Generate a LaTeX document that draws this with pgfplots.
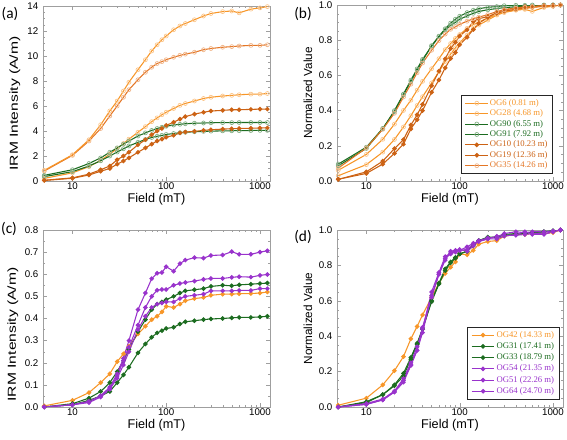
\documentclass[border=0pt]{standalone}
\usepackage{fontspec}
\setmainfont{Liberation Sans}
\newfontfamily\lserif{Liberation Serif}
\newfontfamily\carlito{Carlito}
\usepackage{pgfplots}
\usepackage{pgfplotstable}
\pgfplotsset{compat=1.18}
\pgfkeys{/pgf/number format/assume math mode=true}
\definecolor{lor}{RGB}{247,150,40}
\definecolor{mor}{RGB}{228,118,38}
\definecolor{dor}{RGB}{204,98,20}
\definecolor{dgr}{RGB}{28,108,32}
\definecolor{pur}{RGB}{153,51,204}

\pgfplotstableread{
f OG6 OG28 OG90 OG91 OG10 OG19 OG35
5 0.85 0.21 0.45 0.35 0.06 0.04 0.8
10 2.1 0.65 0.9 0.75 0.25 0.22 2.05
15 3.3 1.15 1.4 1.2 0.55 0.48 3.2
20 4.5 1.65 1.85 1.62 0.9 0.78 4.2
25 5.6 2.15 2.3 2.0 1.2 1.0 5.2
30 6.4 2.6 2.65 2.32 1.7 1.35 6.0
35 7.2 3.0 2.95 2.58 2.0 1.6 6.7
40 7.9 3.35 3.2 2.8 2.3 1.85 7.3
50 8.9 3.9 3.6 3.1 2.9 2.3 8.1
60 9.7 4.35 3.85 3.32 3.3 2.65 8.7
70 10.4 4.75 4.05 3.48 3.7 2.95 9.1
80 10.9 5.05 4.2 3.58 4.0 3.2 9.4
90 11.3 5.3 4.3 3.65 4.2 3.35 9.55
100 11.6 5.5 4.38 3.72 4.45 3.5 9.7
120 12.1 5.8 4.48 3.8 4.7 3.65 9.9
140 12.4 6.05 4.54 3.86 4.95 3.85 10.05
160 12.6 6.2 4.58 3.9 5.15 3.92 10.15
200 12.9 6.4 4.62 3.94 5.35 3.97 10.3
250 13.2 6.6 4.64 3.97 5.5 4.05 10.5
300 13.4 6.7 4.66 3.99 5.6 4.1 10.6
400 13.55 6.8 4.67 4.01 5.65 4.15 10.7
500 13.6 6.85 4.67 4.02 5.7 4.18 10.75
600 13.45 6.9 4.68 4.03 5.7 4.2 10.8
800 13.75 6.95 4.68 4.04 5.73 4.22 10.85
1000 13.85 6.95 4.68 4.05 5.75 4.24 10.85
1200 13.95 7.0 4.68 4.05 5.75 4.25 10.9
}\tabA

\pgfplotstableread{
f OG6 OG28 OG90 OG91 OG10 OG19 OG35
5 0.061 0.030 0.096 0.086 0.010 0.009 0.073
10 0.151 0.093 0.192 0.185 0.043 0.052 0.188
15 0.237 0.164 0.299 0.296 0.096 0.113 0.294
20 0.323 0.236 0.395 0.400 0.157 0.184 0.385
25 0.401 0.307 0.491 0.494 0.209 0.235 0.477
30 0.459 0.371 0.566 0.573 0.296 0.318 0.550
35 0.516 0.429 0.630 0.637 0.348 0.376 0.615
40 0.566 0.479 0.684 0.691 0.400 0.435 0.670
50 0.638 0.557 0.769 0.765 0.504 0.541 0.743
60 0.695 0.621 0.823 0.820 0.574 0.624 0.798
70 0.746 0.679 0.865 0.859 0.643 0.694 0.835
80 0.781 0.721 0.897 0.884 0.696 0.753 0.862
90 0.810 0.757 0.919 0.901 0.730 0.788 0.876
100 0.832 0.786 0.936 0.919 0.774 0.824 0.890
120 0.867 0.829 0.957 0.938 0.817 0.859 0.908
140 0.889 0.864 0.970 0.953 0.861 0.906 0.922
160 0.903 0.886 0.979 0.963 0.896 0.922 0.931
200 0.925 0.914 0.987 0.973 0.930 0.934 0.945
250 0.946 0.943 0.991 0.980 0.957 0.953 0.963
300 0.961 0.957 0.996 0.985 0.974 0.965 0.972
400 0.971 0.971 0.998 0.990 0.983 0.976 0.982
500 0.975 0.979 0.998 0.993 0.991 0.984 0.986
600 0.964 0.986 1.0 0.995 0.991 0.988 0.991
800 0.986 0.993 1.0 0.998 0.997 0.993 0.995
1000 0.993 0.993 1.0 1.0 1.0 0.998 0.995
1200 1.0 1.0 1.0 1.0 1.0 1.0 1.0
}\tabB

\pgfplotstableread{
f OG42 OG31 OG33 OG54 OG51 OG64
5 0.005 0 0 0 0 0
10 0.03 0.015 0.01 0.01 0.01 0.01
15 0.065 0.04 0.03 0.025 0.025 0.02
20 0.11 0.07 0.05 0.05 0.05 0.045
25 0.15 0.11 0.07 0.09 0.085 0.08
30 0.205 0.16 0.11 0.15 0.14 0.13
35 0.24 0.21 0.145 0.22 0.21 0.19
40 0.275 0.26 0.18 0.30 0.27 0.25
50 0.33 0.34 0.245 0.44 0.37 0.35
60 0.365 0.395 0.285 0.515 0.45 0.41
70 0.395 0.44 0.315 0.58 0.50 0.45
80 0.41 0.465 0.335 0.605 0.528 0.465
90 0.43 0.475 0.345 0.608 0.531 0.47
100 0.455 0.485 0.355 0.634 0.531 0.475
120 0.45 0.50 0.36 0.614 0.55 0.475
140 0.465 0.515 0.375 0.648 0.558 0.49
160 0.48 0.525 0.385 0.664 0.563 0.50
200 0.49 0.53 0.39 0.675 0.569 0.505
250 0.495 0.535 0.395 0.673 0.577 0.51
300 0.505 0.545 0.398 0.685 0.581 0.525
400 0.51 0.55 0.40 0.687 0.581 0.525
500 0.51 0.548 0.403 0.702 0.586 0.525
600 0.512 0.552 0.405 0.69 0.589 0.527
800 0.513 0.555 0.405 0.69 0.587 0.527
1000 0.515 0.558 0.407 0.70 0.595 0.535
1200 0.52 0.56 0.41 0.706 0.599 0.535
}\tabC

\pgfplotstableread{
f OG42 OG31 OG33 OG54 OG51 OG64
5 0.01 0.0 0.0 0.0 0.0 0.0
10 0.05 0.03 0.025 0.015 0.015 0.02
15 0.125 0.07 0.07 0.04 0.04 0.045
20 0.205 0.125 0.12 0.085 0.085 0.09
25 0.285 0.19 0.175 0.15 0.14 0.16
30 0.385 0.28 0.27 0.24 0.235 0.25
35 0.455 0.36 0.355 0.32 0.32 0.34
40 0.52 0.44 0.44 0.42 0.45 0.44
50 0.62 0.60 0.595 0.63 0.62 0.65
60 0.70 0.70 0.695 0.75 0.75 0.76
70 0.755 0.78 0.77 0.84 0.83 0.85
80 0.79 0.82 0.815 0.865 0.88 0.87
90 0.82 0.845 0.84 0.875 0.885 0.88
100 0.865 0.865 0.865 0.89 0.885 0.885
120 0.86 0.88 0.88 0.88 0.905 0.89
140 0.885 0.92 0.91 0.91 0.925 0.92
160 0.92 0.94 0.94 0.935 0.935 0.94
200 0.935 0.96 0.955 0.95 0.95 0.955
250 0.94 0.96 0.96 0.95 0.965 0.96
300 0.965 0.975 0.97 0.965 0.97 0.98
400 0.975 0.98 0.975 0.975 0.97 0.99
500 0.975 0.98 0.98 0.99 0.975 0.985
600 0.98 0.985 0.985 0.975 0.98 0.99
800 0.98 0.99 0.99 0.975 0.98 0.99
1000 0.985 0.995 0.995 0.99 0.99 0.995
1200 1.0 1.0 1.0 1.0 1.0 1.0
}\tabD

\pgfplotsset{
  sOpen/.style={color=#1, line width=0.8pt, mark=o, mark size=1.5pt, mark options={fill=white, draw=#1!55!white, line width=0.5pt, solid}},
  sFill/.style={color=#1, line width=0.8pt, mark=*, mark size=1.3pt, mark options={solid}},
}
\def\legfont{\lserif\fontsize{6.5}{7}\selectfont}
\def\tickfont{\fontsize{7.3}{8}\selectfont}
\def\xlabfont{\fontsize{9.5}{11}\selectfont}

\begin{document}
\begin{tikzpicture}
\useasboundingbox (0,0) rectangle (425.25pt,-329.25pt);

% (a)
\begin{axis}[at={(32.25pt,-4.5pt)}, anchor=north west,
  scale only axis, width=170.25pt, height=131.25pt,
  xmode=log, xmin=4.85, xmax=1280,
  xtick={10,100,1000}, xticklabels={10,100,1000},
  tick label style={font=\tickfont}, xticklabel style={inner sep=1pt},
  axis line style={gray!75}, tick style={gray!75},
  major tick length=3pt, minor tick length=1.8pt,
  xlabel={Field (mT)},
  xlabel style={font=\xlabfont, at={(axis description cs:0.5,0)}, anchor=center, yshift=-14pt},
  ymin=0, ymax=14, ytick={0,2,...,14}, minor y tick num=3,
  ylabel={\scalebox{1.35}[1]{IRM Intensity (A/m)}},
  ylabel style={font=\fontsize{8.7}{10}\selectfont, at={(axis description cs:0,0.443)}, anchor=center, yshift=21pt}]
\addplot[sOpen=lor] table[x=f,y=OG28] {\tabA};
\addplot[sOpen=dgr] table[x=f,y=OG91] {\tabA};
\addplot[sOpen=dgr] table[x=f,y=OG90] {\tabA};
\addplot[sFill=dor] table[x=f,y=OG19] {\tabA};
\addplot[sFill=dor] table[x=f,y=OG10] {\tabA};
\addplot[sOpen=mor] table[x=f,y=OG35] {\tabA};
\addplot[sOpen=lor] table[x=f,y=OG6] {\tabA};
\end{axis}

% (b)
\begin{axis}[at={(252.75pt,-3.75pt)}, anchor=north west,
  scale only axis, width=169.5pt, height=132pt,
  xmode=log, xmin=4.85, xmax=1280,
  xtick={10,100,1000}, xticklabels={10,100,1000},
  tick label style={font=\tickfont}, xticklabel style={inner sep=1pt},
  axis line style={gray!75}, tick style={gray!75},
  major tick length=3pt, minor tick length=1.8pt,
  xlabel={Field (mT)},
  xlabel style={font=\xlabfont, at={(axis description cs:0.5,0)}, anchor=center, yshift=-14pt},
  ymin=0, ymax=1, ytick={0,0.2,...,1.0}, minor y tick num=3,
  yticklabel style={/pgf/number format/fixed, /pgf/number format/fixed zerofill, /pgf/number format/precision=1},
  ylabel={Normalized Value},
  ylabel style={font=\fontsize{8.8}{10}\selectfont, at={(axis description cs:0,0.5)}, anchor=center, yshift=21.75pt},
  legend cell align=left,
  legend style={at={(0.956,0.04)}, anchor=south east, draw=black!85, line width=0.6pt, fill=white,
    font=\legfont, nodes={inner sep=0.9pt}, inner xsep=3pt, inner ysep=2pt}]
\addplot[sOpen=lor] table[x=f,y=OG6] {\tabB};
\addlegendentry{\textcolor{lor}{OG6 (0.81 m)}}
\addplot[sOpen=lor] table[x=f,y=OG28] {\tabB};
\addlegendentry{\textcolor{lor}{OG28 (4.68 m)}}
\addplot[sOpen=dgr] table[x=f,y=OG90] {\tabB};
\addlegendentry{\textcolor{dgr}{OG90 (6.55 m)}}
\addplot[sOpen=dgr] table[x=f,y=OG91] {\tabB};
\addlegendentry{\textcolor{dgr}{OG91 (7.92 m)}}
\addplot[sFill=dor] table[x=f,y=OG10] {\tabB};
\addlegendentry{\textcolor{dor}{OG10 (10.23 m)}}
\addplot[sFill=dor] table[x=f,y=OG19] {\tabB};
\addlegendentry{\textcolor{dor}{OG19 (12.36 m)}}
\addplot[sOpen=mor] table[x=f,y=OG35] {\tabB};
\addlegendentry{\textcolor{mor}{OG35 (14.26 m)}}
\end{axis}

% (c)
\begin{axis}[at={(32.25pt,-172.5pt)}, anchor=north west,
  scale only axis, width=170.25pt, height=132.75pt,
  xmode=log, xmin=4.85, xmax=1280,
  xtick={10,100,1000}, xticklabels={10,100,1000},
  tick label style={font=\tickfont}, xticklabel style={inner sep=1pt},
  axis line style={gray!75}, tick style={gray!75},
  major tick length=3pt, minor tick length=1.8pt,
  xlabel={Field (mT)},
  xlabel style={font=\xlabfont, at={(axis description cs:0.5,0)}, anchor=center, yshift=-14pt},
  ymin=0, ymax=0.8, ytick={0,0.1,...,0.8}, minor y tick num=1,
  yticklabel style={/pgf/number format/fixed, /pgf/number format/fixed zerofill, /pgf/number format/precision=1},
  ylabel={\scalebox{1.35}[1]{IRM Intensity (A/m)}},
  ylabel style={font=\fontsize{8.7}{10}\selectfont, at={(axis description cs:0,0.41)}, anchor=center, yshift=22.5pt}]
\addplot[sFill=dgr] table[x=f,y=OG33] {\tabC};
\addplot[sFill=lor] table[x=f,y=OG42] {\tabC};
\addplot[sFill=dgr] table[x=f,y=OG31] {\tabC};
\addplot[sFill=pur] table[x=f,y=OG64] {\tabC};
\addplot[sFill=pur] table[x=f,y=OG51] {\tabC};
\addplot[sFill=pur] table[x=f,y=OG54] {\tabC};
\end{axis}

% (d)
\begin{axis}[at={(252.75pt,-172.5pt)}, anchor=north west,
  scale only axis, width=169.5pt, height=132.75pt,
  xmode=log, xmin=4.85, xmax=1280,
  xtick={10,100,1000}, xticklabels={10,100,1000},
  tick label style={font=\tickfont}, xticklabel style={inner sep=1pt},
  axis line style={gray!75}, tick style={gray!75},
  major tick length=3pt, minor tick length=1.8pt,
  xlabel={Field (mT)},
  xlabel style={font=\xlabfont, at={(axis description cs:0.5,0)}, anchor=center, yshift=-14pt},
  ymin=0, ymax=1, ytick={0,0.2,...,1.0}, minor y tick num=3,
  yticklabel style={/pgf/number format/fixed, /pgf/number format/fixed zerofill, /pgf/number format/precision=1},
  ylabel={Normalized Value},
  ylabel style={font=\fontsize{8.8}{10}\selectfont, at={(axis description cs:0,0.5)}, anchor=center, yshift=21.75pt},
  legend cell align=left,
  legend style={at={(0.987,0.04)}, anchor=south east, draw=black!85, line width=0.6pt, fill=white,
    font=\legfont, nodes={inner sep=1.2pt}, inner xsep=3pt, inner ysep=2pt}]
\addplot[sFill=lor] table[x=f,y=OG42] {\tabD};
\addlegendentry{\textcolor{lor}{OG42 (14.33 m)}}
\addplot[sFill=dgr] table[x=f,y=OG31] {\tabD};
\addlegendentry{\textcolor{dgr}{OG31 (17.41 m)}}
\addplot[sFill=dgr] table[x=f,y=OG33] {\tabD};
\addlegendentry{\textcolor{dgr}{OG33 (18.79 m)}}
\addplot[sFill=pur] table[x=f,y=OG54] {\tabD};
\addlegendentry{\textcolor{pur}{OG54 (21.35 m)}}
\addplot[sFill=pur] table[x=f,y=OG51] {\tabD};
\addlegendentry{\textcolor{pur}{OG51 (22.26 m)}}
\addplot[sFill=pur] table[x=f,y=OG64] {\tabD};
\addlegendentry{\textcolor{pur}{OG64 (24.70 m)}}
\end{axis}

\node[font=\carlito\fontsize{11.5}{13}\selectfont] at (7.5pt,-10.5pt) {(a)};
\node[font=\carlito\fontsize{11.5}{13}\selectfont] at (227.25pt,-10.5pt) {(b)};
\node[font=\carlito\fontsize{11.5}{13}\selectfont] at (6.75pt,-171.75pt) {(c)};
\node[font=\carlito\fontsize{11.5}{13}\selectfont] at (227.25pt,-177.75pt) {(d)};
\end{tikzpicture}
\end{document}
